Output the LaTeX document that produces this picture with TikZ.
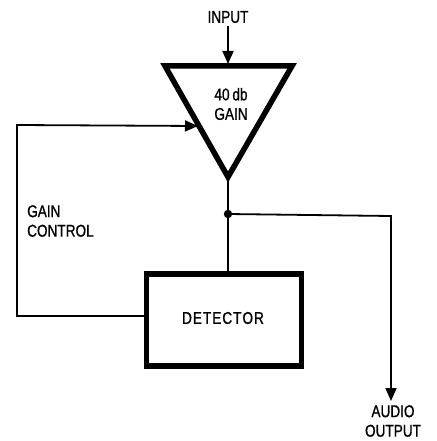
\documentclass[tikz,border=0pt]{standalone}
\usepackage{fontspec}
\newfontfamily\labfont[FakeStretch=0.8,FakeBold=0.9]{Liberation Sans}
\usetikzlibrary{arrows.meta}
\begin{document}
\begin{tikzpicture}[x=1pt,y=-1pt,
  wire/.style={line width=1.8pt},
  arr/.style={wire,-{Triangle[length=13pt,width=11pt]}},
  thickbox/.style={line width=5.5pt},
  lab/.style={font=\labfont\fontsize{17}{19.5}\selectfont,inner sep=0pt,align=center}]
\useasboundingbox (0,0) rectangle (436,441);
% amplifier triangle
\coordinate (tl) at (165,66);
\coordinate (tr) at (292,66);
\coordinate (apex) at (228,177);
\draw[thickbox,line join=miter] (tl) -- (tr) -- (apex) -- cycle;
\node[lab] (gaintxt) at (231,104) {40\,db\\GAIN};
% input
\node[lab] (input) at (228,17) {INPUT};
\coordinate (intip) at (228,64);
\draw[arr] (input.south) ++(0,3) -- (intip);
% detector
\node[thickbox,draw,minimum width=155pt,minimum height=92pt,inner sep=0pt] (det) at (224,320) {};
\node[lab] (dettxt) at (223,318) {D\kern1pt E\kern1pt T\kern1pt E\kern1pt C\kern1pt T\kern1pt O\kern1pt R};
% junction
\coordinate (junc) at (228,214);
\fill (junc) circle (4.2pt);
\draw[wire] (apex) -- (junc);
\draw[wire] (junc) -- (det.north -| junc);
% output
\coordinate (outcorner) at (391,216);
\node[lab] (aout) at (393,421) {AUDIO\\OUTPUT};
\draw[arr] (junc) -- (outcorner) -- (391,401);
% gain control
\coordinate (gcl) at (17,316);
\coordinate (gcu) at (17,125);
\coordinate (gctip) at (198,126);
\draw[arr] (det.west |- gcl) -- (gcl) -- (gcu) -- (gctip);
\node[lab,align=left,anchor=west] (gc) at (27,221) {GAIN\\CONTROL};
\end{tikzpicture}
\end{document}
